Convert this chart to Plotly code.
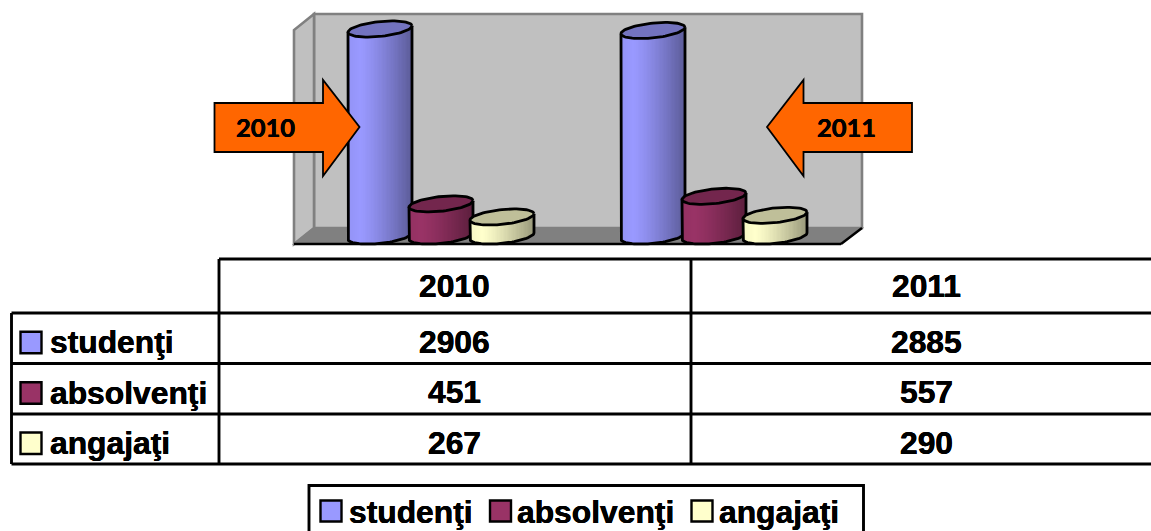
import math
import plotly.graph_objects as go

years = ["2010", "2011"]
series_names = ["studenţi", "absolvenţi", "angajaţi"]
studenti = [2906, 2885]
absolventi = [451, 557]
angajati = [267, 290]
series_values = [studenti, absolventi, angajati]
series_colors = ["#9999FF", "#993366", "#FFFFCC"]
top_colors = ["#7373BF", "#73264D", "#BFBF99"]

W, H = 1151, 531
FONT = "Liberation Sans"
X0, XSTEP = 441.0, 273.0      # px of group 0, px per group
Y0, K = 236.0, 0.07123        # px of value 0, px per unit
OFFSET, A, B, TILT = 61.0, 32.0, 7.4, 3.2
N = 48
HEAVY = "0.25px 0 0 black, -0.25px 0 0 black"


def xu(px):
    return (px - X0) / XSTEP


def px(x):
    return x / W


def py(y):
    return 1 - y / H


def shade(hex_color, f):
    r, g, b = [int(hex_color[i:i + 2], 16) for i in (1, 3, 5)]
    return f"rgb({round(r * f)},{round(g * f)},{round(b * f)})"


def factor(t):
    if t < -0.6:
        return 1.0 - 0.04 * (t + 0.6) / -0.4
    return 1.0 - 0.40 * ((t + 0.6) / 1.6) ** 1.25


fig = go.Figure()
axis_names = ["y", "y2", "y3"]
for s, (name, values, color, top) in enumerate(zip(series_names, series_values, series_colors, top_colors)):
    bx, by, bbase, bwidth, bcolor = [], [], [], [], []
    ox, oy, ex, ey = [], [], [], []
    for g, v in enumerate(values):
        cx = g + (s - 1) * OFFSET / XSTEP
        for i in range(N):
            t = -1 + (i + 0.5) * 2 / N
            bottom = (TILT * t - B * math.sqrt(1 - t * t)) / K
            bx.append(cx + A * t / XSTEP)
            bbase.append(bottom)
            by.append(v + TILT * t / K - bottom)
            bwidth.append(1.25 * 2 * A / N / XSTEP)
            bcolor.append(shade(color, factor(t)))
        # silhouette: down the left side, under the front arc, up the right side
        ox.append(cx - A / XSTEP)
        oy.append(v - TILT / K)
        for j in range(41):
            th = math.pi * (1 - j / 40)
            ox.append(cx + A * math.cos(th) / XSTEP)
            oy.append((TILT * math.cos(th) - B * math.sin(th)) / K)
        ox.append(cx + A / XSTEP)
        oy.append(v + TILT / K)
        ox.append(None)
        oy.append(None)
        for j in range(81):
            th = 2 * math.pi * j / 80
            ex.append(cx + A * math.cos(th) / XSTEP)
            ey.append(v + (TILT * math.cos(th) + B * math.sin(th)) / K)
        ex.append(None)
        ey.append(None)
    ya = axis_names[s]
    fig.add_trace(go.Bar(x=bx, y=by, base=bbase, width=bwidth, name=name, yaxis=ya,
                         marker=dict(color=bcolor, line=dict(width=0)), showlegend=False))
    fig.add_trace(go.Scatter(x=ox, y=oy, mode="lines", yaxis=ya, showlegend=False,
                             line=dict(color="black", width=2.8)))
    fig.add_trace(go.Scatter(x=ex, y=ey, mode="lines", yaxis=ya, showlegend=False, fill="toself",
                             fillcolor=top, line=dict(color="black", width=2.8)))

shapes = []


def poly(points, fill, line, width, layer="below"):
    d = "M " + " L ".join(f"{px(x):.5f},{py(y):.5f}" for x, y in points) + " Z"
    shapes.append(dict(type="path", path=d, xref="paper", yref="paper", fillcolor=fill,
                       line=dict(color=line, width=width), layer=layer))


def seg(x0, y0, x1, y1, color="black", width=2.9, layer="above"):
    shapes.append(dict(type="line", xref="paper", yref="paper", x0=px(x0), y0=py(y0), x1=px(x1), y1=py(y1),
                       line=dict(color=color, width=width), layer=layer))


# 3-D box of the plot area
poly([(314, 14), (862, 14), (862, 228), (314, 228)], "#C0C0C0", "#808080", 2.6)
poly([(314, 14), (294, 30), (294, 244), (314, 228)], "#C0C0C0", "#808080", 2.6)
poly([(314, 228), (862, 228), (841, 244), (294, 244)], "#808080", "#808080", 1.5)
seg(294, 244, 841, 244, width=2.4, layer="below")
seg(841, 244, 862, 228, width=2.4, layer="below")

# block arrows
poly([(214.5, 103), (323, 103), (323, 80), (359.5, 127), (323, 176), (323, 152), (214.5, 152)],
     "#FF6600", "black", 1.8, "above")
poly([(912, 103), (803.5, 103), (803.5, 80), (767, 127), (803.5, 176), (803.5, 152), (912, 152)],
     "#FF6600", "black", 1.8, "above")

# data table
ROWS = [313, 363.5, 414, 464]
for y in ROWS:
    seg(11.5, y, W, y)
seg(219, 259, W, 259)
seg(11.5, 313, 11.5, 464)
seg(219, 259, 219, 464)
seg(691, 259, 691, 464)


def swatch(x0, y0, x1, y1, color):
    shapes.append(dict(type="rect", xref="paper", yref="paper", x0=px(x0), y0=py(y0), x1=px(x1), y1=py(y1),
                       fillcolor=color, line=dict(color="black", width=2.4), layer="above"))


annotations = []


def label(x, y, text, size=31.8, anchor="center", family=FONT, dy=0):
    annotations.append(dict(xref="paper", yref="paper", x=px(x), y=py(y + dy), text=f"<b>{text}</b>",
                            showarrow=False, xanchor=anchor, yanchor="middle", align=anchor,
                            borderpad=0, font=dict(family=family, size=size, color="black", shadow=HEAVY)))


COLS = [454.5, 926]
for c, year in zip(COLS, years):
    label(c, 286, year)
for r, (name, values, color) in enumerate(zip(series_names, series_values, series_colors)):
    ymid = (ROWS[r] + ROWS[r + 1]) / 2
    swatch(20.5, ymid - 6.5, 41.5, ymid + 15, color)
    label(48.5, ymid + 4, name, anchor="left")
    for c, v in zip(COLS, values):
        label(c, ymid + 3.5, str(v))

label(265, 127.5, years[0], size=25.5, family="Lato")
label(846, 127.5, years[1], size=25.5, family="Lato")

# bottom legend
shapes.append(dict(type="rect", xref="paper", yref="paper", x0=px(309), y0=py(485.5), x1=px(863.5), y1=py(540),
                   line=dict(color="black", width=2.9), fillcolor="white", layer="above"))
for sx, tx, name, color in zip([320.5, 490, 691.5], [347.5, 516, 718], series_names, series_colors):
    swatch(sx, 500.5, sx + 21, 521.5, color)
    label(tx, 512, name, anchor="left")

hidden = dict(visible=False, showgrid=False, zeroline=False, fixedrange=True)
yrange = [(Y0 - H) / K, Y0 / K]
fig.update_layout(
    width=W, height=H, margin=dict(l=0, r=0, t=0, b=0, pad=0), autosize=False,
    paper_bgcolor="white", plot_bgcolor="rgba(0,0,0,0)", barmode="overlay", bargap=0,
    showlegend=False, shapes=shapes, annotations=annotations,
    xaxis=dict(range=[xu(0), xu(W)], domain=[0, 1], **hidden),
    yaxis=dict(range=yrange, domain=[0, 1], **hidden),
    yaxis2=dict(range=yrange, overlaying="y", **hidden),
    yaxis3=dict(range=yrange, overlaying="y", **hidden),
)

fig.write_html("out.html", config={"displayModeBar": False},
               post_script="document.body.style.margin='0';document.body.style.overflow='hidden';")
